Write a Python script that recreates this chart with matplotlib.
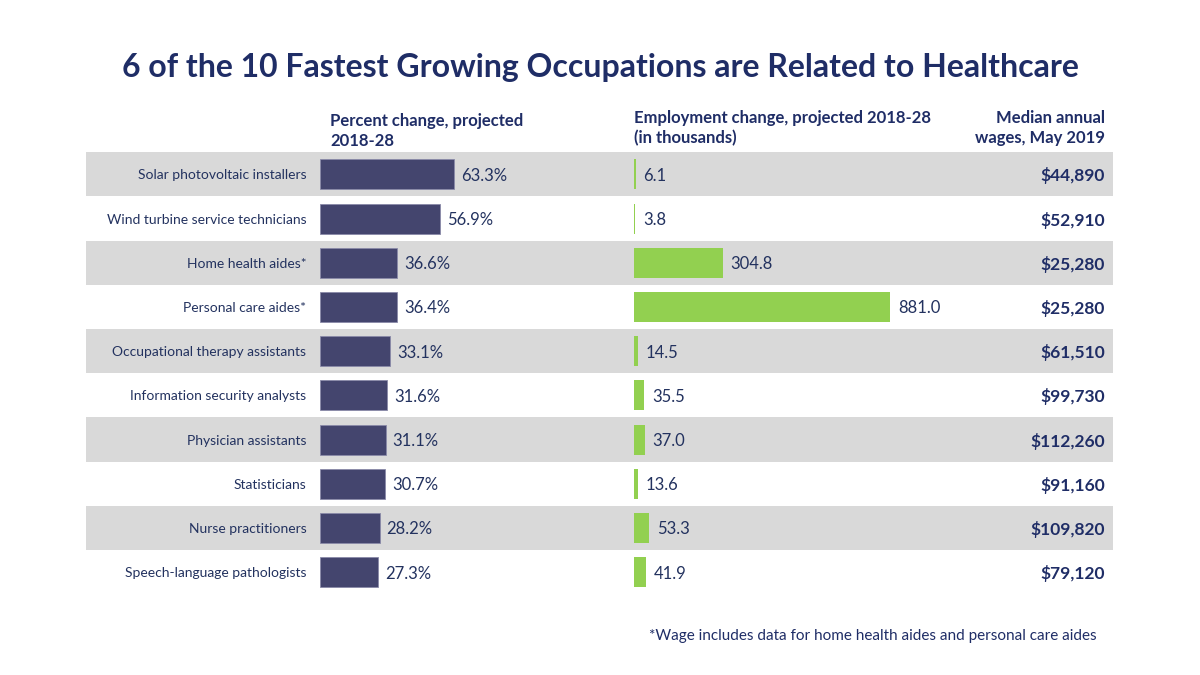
import matplotlib
matplotlib.use('Agg')
import matplotlib.pyplot as plt

plt.rcParams['font.family'] = ['Lato', 'DejaVu Sans']

occupations = ['Solar photovoltaic installers', 'Wind turbine service technicians',
               'Home health aides*', 'Personal care aides*',
               'Occupational therapy assistants', 'Information security analysts',
               'Physician assistants', 'Statisticians', 'Nurse practitioners',
               'Speech-language pathologists']
pct_change = [63.3, 56.9, 36.6, 36.4, 33.1, 31.6, 31.1, 30.7, 28.2, 27.3]
emp_change = [6.1, 3.8, 304.8, 881.0, 14.5, 35.5, 37.0, 13.6, 53.3, 41.9]
wages = ['$44,890', '$52,910', '$25,280', '$25,280', '$61,510', '$99,730',
         '$112,260', '$91,160', '$109,820', '$79,120']

navy = '#1f2d66'
text_c = '#23325f'
bar_c = '#44456e'
green = '#92d050'
band = '#d9d9d9'

W, H = 1200, 675
fig = plt.figure(figsize=(12, 6.75), dpi=100)
fig.patch.set_facecolor('white')

n = len(occupations)
top, bottom = 152.3, 594.3
y0 = 1 - bottom / H
h = (bottom - top) / H

# background bands + wages column
ax_bg = fig.add_axes([86 / W, y0, (1113 - 86) / W, h])
ax_bg.set_xlim(0, 1)
ax_bg.set_ylim(n - 0.5, -0.5)
for i in range(n):
    if i % 2 == 0:
        ax_bg.axhspan(i - 0.5, i + 0.5, color=band, lw=0)
    ax_bg.text(0.992, i, wages[i], ha='right', va='center_baseline', fontsize=12.5,
               fontweight='bold', color=navy)
ax_bg.axis('off')

# percent change bars
ax_p = fig.add_axes([320 / W, y0, 211.5 / W, h])
ax_p.set_xlim(0, 100)
ax_p.set_ylim(n - 0.5, -0.5)
ax_p.barh(range(n), pct_change, height=0.68, color=bar_c,
          edgecolor='#8a8aa8', linewidth=0.6)
for i, v in enumerate(pct_change):
    ax_p.text(v + 3.3, i, f'{v:.1f}%', ha='left', va='center_baseline', fontsize=12, color=text_c)
    ax_p.text(-6.5, i, occupations[i], ha='right', va='center_baseline', fontsize=10, color=text_c)
ax_p.axis('off')

# employment change bars
ax_e = fig.add_axes([634 / W, y0, 290.6 / W, h])
ax_e.set_xlim(0, 1000)
ax_e.set_ylim(n - 0.5, -0.5)
ax_e.barh(range(n), emp_change, height=0.68, color=green, linewidth=0)
for i, v in enumerate(emp_change):
    ax_e.text(v + 27, i, f'{v:.1f}', ha='left', va='center_baseline', fontsize=12, color=text_c)
ax_e.axis('off')

# titles and headers
fig.text(0.5, 1 - 68 / H, '6 of the 10 Fastest Growing Occupations are Related to Healthcare',
         ha='center', va='center', fontsize=23, fontweight='bold', color=navy)
fig.text(330 / W, 1 - 131 / H, 'Percent change, projected\n2018-28', ha='left', va='center',
         fontsize=12, fontweight='bold', color=navy, linespacing=1.25)
fig.text(634 / W, 1 - 128 / H, 'Employment change, projected 2018-28\n(in thousands)',
         ha='left', va='center', fontsize=12, fontweight='bold', color=navy, linespacing=1.25)
fig.text(1105 / W, 1 - 128 / H, 'Median annual\nwages, May 2019', ha='right', va='center',
         fontsize=12, fontweight='bold', color=navy, linespacing=1.25, multialignment='right')
fig.text(1097 / W, 1 - 636 / H, '*Wage includes data for home health aides and personal care aides',
         ha='right', va='center', fontsize=11, color=navy)

fig.savefig('out.png', dpi=100, facecolor='white')
